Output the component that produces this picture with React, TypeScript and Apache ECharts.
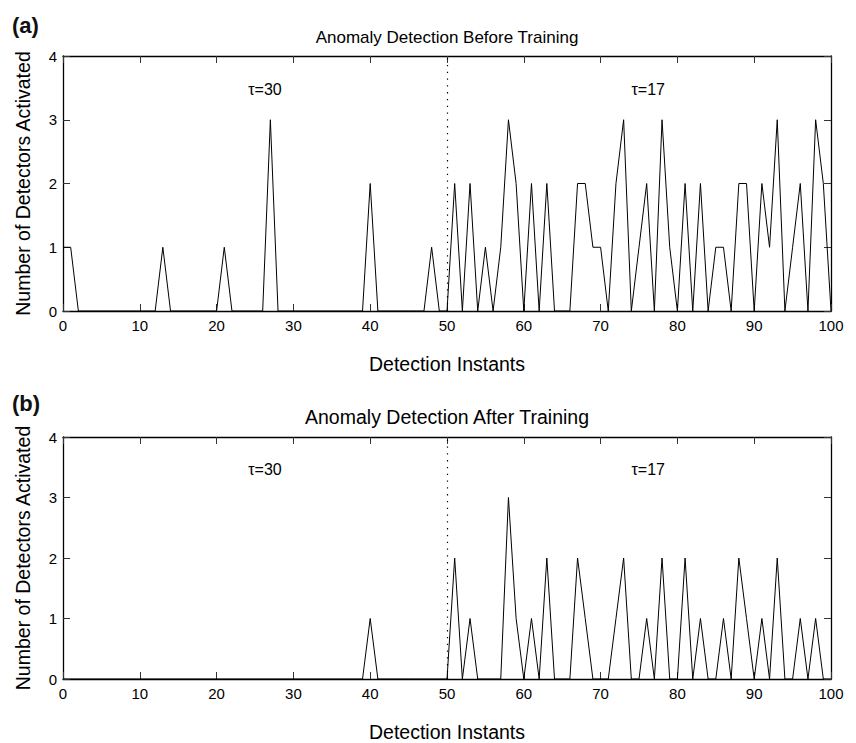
import React, { useEffect, useRef } from "react";
import * as echarts from "echarts";

// Detection instants 0..100
const instants: number[] = Array.from({ length: 101 }, (_, i) => i);

// Number of detectors activated, before training (instants 0..100)
const beforeTraining: number[] = [
  1, 1, 0, 0, 0, 0, 0, 0, 0, 0, // 0-9
  0, 0, 0, 1, 0, 0, 0, 0, 0, 0, // 10-19
  0, 1, 0, 0, 0, 0, 0, 3, 0, 0, // 20-29
  0, 0, 0, 0, 0, 0, 0, 0, 0, 0, // 30-39
  2, 0, 0, 0, 0, 0, 0, 0, 1, 0, // 40-49
  0, 2, 0, 2, 0, 1, 0, 1, 3, 2, // 50-59
  0, 2, 0, 2, 0, 0, 0, 2, 2, 1, // 60-69
  1, 0, 2, 3, 0, 1, 2, 0, 3, 1, // 70-79
  0, 2, 0, 2, 0, 1, 1, 0, 2, 2, // 80-89
  0, 2, 1, 3, 0, 1, 2, 0, 3, 2, // 90-99
  0, // 100
];

// Number of detectors activated, after training (instants 0..100)
const afterTraining: number[] = [
  0, 0, 0, 0, 0, 0, 0, 0, 0, 0, // 0-9
  0, 0, 0, 0, 0, 0, 0, 0, 0, 0, // 10-19
  0, 0, 0, 0, 0, 0, 0, 0, 0, 0, // 20-29
  0, 0, 0, 0, 0, 0, 0, 0, 0, 0, // 30-39
  1, 0, 0, 0, 0, 0, 0, 0, 0, 0, // 40-49
  0, 2, 0, 1, 0, 0, 0, 0, 3, 1, // 50-59
  0, 1, 0, 2, 0, 0, 0, 2, 1, 0, // 60-69
  0, 0, 1, 2, 0, 0, 1, 0, 2, 0, // 70-79
  0, 2, 0, 1, 0, 0, 1, 0, 2, 1, // 80-89
  0, 1, 0, 2, 0, 0, 1, 0, 1, 0, // 90-99
  0, // 100
];

const panelTitles: string[] = [
  "Anomaly Detection Before Training",
  "Anomaly Detection After Training",
];
const panelTags: string[] = ["(a)", "(b)"];
const changePoint = 50;
const tauLabels: { text: string; x: number; y: number }[] = [
  { text: "τ=30", x: 26.3, y: 3.47 },
  { text: "τ=17", x: 76.2, y: 3.47 },
];
const xAxisName = "Detection Instants";
const yAxisName = "Number of Detectors Activated";

const FONT = "'Liberation Sans', Arial, Helvetica, sans-serif";

export default function App() {
  const ref = useRef<HTMLDivElement>(null);

  useEffect(() => {
    if (!ref.current) return;
    const chart = echarts.init(ref.current, null, { renderer: "svg" });

    const grids = [
      { left: 63, top: 56, width: 768, height: 255 },
      { left: 63, top: 437, width: 768, height: 255 },
    ];

    const axisLine = { show: true, onZero: false, lineStyle: { color: "#000", width: 1.3 } };
    const tick = { show: true, inside: true, length: 7, lineStyle: { color: "#333", width: 1 } };

    const xAxes: any[] = [];
    const yAxes: any[] = [];
    grids.forEach((_, g) => {
      xAxes.push({
        type: "value",
        gridIndex: g,
        position: "bottom",
        min: 0,
        max: 100,
        interval: 10,
        axisLine,
        axisTick: tick,
        splitLine: { show: false },
        axisLabel: { color: "#000", fontSize: 15, fontFamily: FONT, margin: 7 },
        name: xAxisName,
        nameLocation: "middle",
        nameGap: 43,
        nameTextStyle: { color: "#000", fontSize: 19.5, fontFamily: FONT },
      });
      xAxes.push({
        type: "value",
        gridIndex: g,
        position: "top",
        min: 0,
        max: 100,
        interval: 10,
        axisLine,
        axisTick: tick,
        splitLine: { show: false },
        axisLabel: { show: false },
      });
      yAxes.push({
        type: "value",
        gridIndex: g,
        position: "left",
        min: 0,
        max: 4,
        interval: 1,
        axisLine,
        axisTick: tick,
        splitLine: { show: false },
        axisLabel: { color: "#000", fontSize: 15, fontFamily: FONT, margin: 6 },
        name: yAxisName,
        nameLocation: "middle",
        nameGap: 30,
        nameTextStyle: { color: "#000", fontSize: 19.5, fontFamily: FONT },
      });
      yAxes.push({
        type: "value",
        gridIndex: g,
        position: "right",
        min: 0,
        max: 4,
        interval: 1,
        axisLine,
        axisTick: tick,
        splitLine: { show: false },
        axisLabel: { show: false },
      });
    });

    const datasets = [beforeTraining, afterTraining];
    const series = datasets.map((vals, g) => ({
      type: "line",
      xAxisIndex: g * 2,
      yAxisIndex: g * 2,
      data: instants.map((x, i) => [x, vals[i]]),
      showSymbol: false,
      symbol: "none",
      lineStyle: { color: "#000", width: 1 },
      z: 3,
      markLine: {
        silent: true,
        symbol: "none",
        label: { show: false },
        lineStyle: { color: "#000", width: 1.2, type: [1.3, 5.5] },
        data: [{ xAxis: changePoint }],
      },
      markPoint: {
        silent: true,
        symbol: "circle",
        symbolSize: 0,
        label: {
          show: true,
          position: "inside",
          color: "#000",
          fontSize: 16,
          fontFamily: FONT,
          formatter: (p: any) => p.name,
        },
        data: tauLabels.map((t) => ({ name: t.text, coord: [t.x, t.y] })),
      },
    }));

    const graphic: any[] = [];
    panelTitles.forEach((t, g) => {
      graphic.push({
        type: "text",
        x: 447,
        y: g === 0 ? 37 : 417,
        style: {
          text: t,
          fill: "#000",
          fontSize: g === 0 ? 17 : 19.5,
          fontFamily: FONT,
          textAlign: "center",
          textVerticalAlign: "middle",
        },
      });
    });
    panelTags.forEach((t, g) => {
      graphic.push({
        type: "text",
        x: 12,
        y: g === 0 ? 25 : 403,
        style: {
          text: t,
          fill: "#111",
          fontSize: 22,
          fontWeight: "bold",
          fontFamily: FONT,
          textAlign: "left",
          textVerticalAlign: "middle",
        },
      });
    });

    chart.setOption({
      animation: false,
      backgroundColor: "#fff",
      grid: grids,
      xAxis: xAxes,
      yAxis: yAxes,
      series,
      graphic,
    });

    return () => chart.dispose();
  }, []);

  return (
    <div
      ref={ref}
      style={{ position: "fixed", left: 0, top: 0, width: 856, height: 743 }}
    />
  );
}
